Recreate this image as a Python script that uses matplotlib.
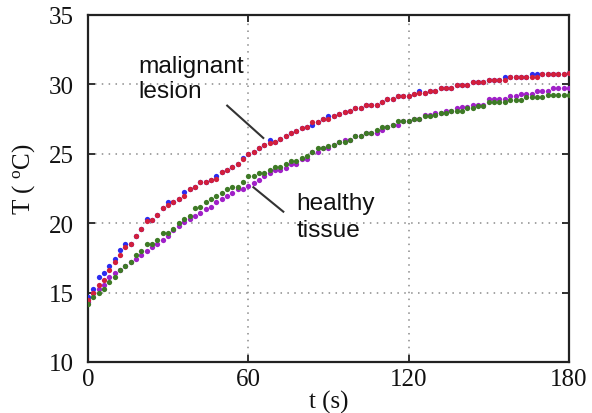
import numpy as np
import matplotlib
matplotlib.use('Agg')
import matplotlib.pyplot as plt

# ---------------- data ----------------
time_s = np.arange(0, 181, 2)

malignant_red = [
    14.5, 14.95, 15.55, 15.9, 16.65, 17.2, 17.7, 18.26, 18.5, 19.06,
    19.58, 20.18, 20.25, 20.6, 21.1, 21.3, 21.5, 21.74, 21.94, 22.46,
    22.63, 22.95, 22.95, 23.13, 23.18, 23.67, 23.86, 24.07, 24.26, 24.6,
    24.95, 25.15, 25.4, 25.6, 25.8, 25.85, 26.07, 26.26, 26.5, 26.66,
    26.83, 26.9, 27.27, 27.3, 27.5, 27.5, 27.75, 27.87, 27.99, 28.1,
    28.28, 28.28, 28.5, 28.5, 28.5, 28.75, 28.95, 28.95, 29.14, 29.14,
    29.14, 29.3, 29.36, 29.36, 29.52, 29.52, 29.72, 29.72, 29.72, 29.96,
    29.96, 29.96, 30.15, 30.15, 30.15, 30.32, 30.32, 30.32, 30.32, 30.5,
    30.5, 30.5, 30.5, 30.5, 30.5, 30.73, 30.73, 30.73, 30.73, 30.73,
    30.82,
]

malignant_blue = [
    14.7, 15.26, 16.1, 16.4, 16.94, 17.4, 18.07, 18.5, 18.5, 19.06,
    19.58, 20.3, 20.25, 20.6, 21.1, 21.55, 21.5, 21.74, 22.27, 22.46,
    22.63, 22.95, 22.95, 23.13, 23.38, 23.67, 23.86, 24.07, 24.26, 24.72,
    24.95, 25.15, 25.4, 25.6, 26.0, 25.85, 26.07, 26.26, 26.5, 26.66,
    26.83, 26.9, 27.1, 27.3, 27.5, 27.75, 27.75, 27.87, 27.99, 28.1,
    28.28, 28.28, 28.5, 28.5, 28.5, 28.75, 28.95, 28.95, 29.14, 29.14,
    29.14, 29.3, 29.55, 29.36, 29.52, 29.52, 29.72, 29.72, 29.72, 29.96,
    29.96, 29.96, 30.15, 30.15, 30.15, 30.32, 30.32, 30.32, 30.5, 30.5,
    30.5, 30.5, 30.5, 30.73, 30.73, 30.73, 30.73, 30.73, 30.73, 30.73,
    30.82,
]

healthy_green = [
    14.2, 14.66, 14.95, 15.26, 15.79, 16.1, 16.65, 16.94, 17.18, 17.7,
    18.0, 18.5, 18.5, 18.8, 19.3, 19.3, 19.58, 20.0, 20.3, 20.54,
    21.07, 21.2, 21.5, 21.74, 21.98, 22.2, 22.46, 22.58, 22.58, 22.95,
    23.38, 23.38, 23.6, 23.6, 23.83, 24.07, 24.07, 24.26, 24.5, 24.5,
    24.7, 24.86, 25.1, 25.42, 25.42, 25.54, 25.63, 25.83, 25.83, 26.02,
    26.26, 26.26, 26.47, 26.47, 26.71, 26.9, 26.9, 27.1, 27.34, 27.34,
    27.34, 27.5, 27.5, 27.7, 27.7, 27.8, 27.94, 27.94, 28.1, 28.1,
    28.1, 28.3, 28.3, 28.47, 28.47, 28.7, 28.7, 28.7, 28.7, 28.9,
    28.9, 28.9, 29.1, 29.1, 29.1, 29.1, 29.26, 29.26, 29.26, 29.26,
    29.26,
]

healthy_purple = [
    14.3, 14.95, 15.26, 15.55, 16.1, 16.4, 16.65, 16.94, 17.18, 17.4,
    17.7, 18.0, 18.26, 18.5, 18.8, 19.06, 19.5, 19.78, 20.06, 20.3,
    20.54, 20.73, 21.0, 21.2, 21.5, 21.74, 21.94, 22.2, 22.46, 22.46,
    22.65, 22.9, 23.13, 23.38, 23.6, 23.83, 23.83, 24.0, 24.26, 24.26,
    24.63, 24.63, 25.1, 25.1, 25.42, 25.42, 25.63, 25.83, 26.02, 26.02,
    26.26, 26.26, 26.47, 26.47, 26.47, 26.71, 26.9, 27.1, 27.1, 27.34,
    27.34, 27.5, 27.5, 27.8, 27.8, 27.94, 27.94, 28.1, 28.1, 28.3,
    28.35, 28.35, 28.5, 28.5, 28.5, 28.95, 28.95, 28.95, 28.95, 29.14,
    29.14, 29.3, 29.3, 29.3, 29.5, 29.5, 29.5, 29.72, 29.72, 29.72,
    29.72,
]

x_ticks = [0, 60, 120, 180]
y_ticks = [10, 15, 20, 25, 30, 35]

# ---------------- style ----------------
plt.rcParams['mathtext.fontset'] = 'custom'
plt.rcParams['mathtext.rm'] = 'Liberation Serif'
plt.rcParams['mathtext.it'] = 'Liberation Serif:italic'

SERIF = 'Liberation Serif'
SANS = 'Liberation Sans'

fig = plt.figure(figsize=(5.92, 4.14), dpi=100)
ax = fig.add_axes([0.1486, 0.1232, 0.8125, 0.8382])

ms = 3.8
ax.plot(time_s, malignant_blue, 'o', ls='none', color='#2b2bf0', ms=ms, mew=0, zorder=3)
ax.plot(time_s, malignant_red, 'o', ls='none', color='#d21f3c', ms=ms, mew=0, zorder=4)
ax.plot(time_s, healthy_purple, 'o', ls='none', color='#a020c8', ms=ms, mew=0, zorder=3)
ax.plot(time_s, healthy_green, 'o', ls='none', color='#3e7a26', ms=ms, mew=0, zorder=4)

ax.set_xlim(0, 180)
ax.set_ylim(10, 35)
ax.set_xticks(x_ticks)
ax.set_yticks(y_ticks)
ax.tick_params(direction='in', top=True, right=True, length=5, width=1.3,
               labelsize=18, color='#222222', labelcolor='#111111')
ax.tick_params(axis='x', pad=4)
ax.tick_params(axis='y', pad=10)
for lab in ax.get_xticklabels() + ax.get_yticklabels():
    lab.set_fontfamily(SERIF)

ax.grid(True, linestyle=(0, (1, 3.5)), color='#8a8a8a', linewidth=1.1)
ax.set_axisbelow(True)
for sp in ax.spines.values():
    sp.set_linewidth(1.6)
    sp.set_color('#222222')

ax.set_xlabel('t (s)', fontsize=18, fontfamily=SERIF, labelpad=0, color='#111111')
ax.set_ylabel(r'T ( $^{\mathrm{o}}$C)', fontsize=18, fontfamily=SERIF, va='center', color='#111111')
ax.yaxis.set_label_coords(-0.134, 0.53)

# annotations
ax.text(18.8, 30.87, 'malignant', fontsize=17.6, fontfamily=SANS, ha='left', va='baseline', color='#111111')
ax.text(18.8, 29.07, 'lesion', fontsize=17.6, fontfamily=SANS, ha='left', va='baseline', color='#111111')
ax.plot([52.1, 65.6], [28.47, 26.14], color='#333333', lw=1.5, zorder=5)

ax.text(78.1, 21.02, 'healthy', fontsize=17.6, fontfamily=SANS, ha='left', va='baseline', color='#111111')
ax.text(78.1, 19.1, 'tissue', fontsize=17.6, fontfamily=SANS, ha='left', va='baseline', color='#111111')
ax.plot([61.9, 73.1], [22.59, 20.83], color='#333333', lw=1.5, zorder=5)

fig.savefig('out.png', dpi=100)
